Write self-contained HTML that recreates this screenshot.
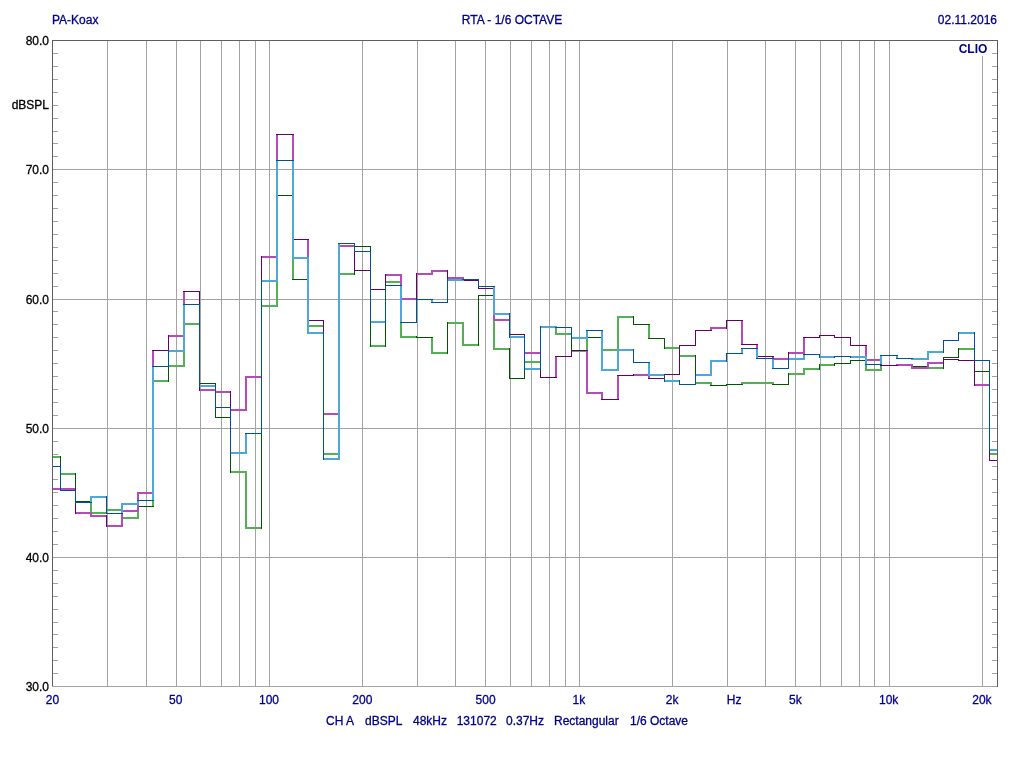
<!DOCTYPE html><html><head><meta charset="utf-8"><style>html,body{margin:0;padding:0;background:#fff;width:1024px;height:768px;overflow:hidden}svg{display:block;will-change:transform}text{font-family:"Liberation Sans",sans-serif;font-size:12px;stroke-width:0.3px}.b{fill:#00008c;stroke:#00008c}.k{fill:#000;stroke:#000}</style></head><body>
<svg width="1024" height="768" viewBox="0 0 1024 768">
<rect width="1024" height="768" fill="#fff"/>
<path d="M107.5 40 V686 M146.5 40 V686 M176.5 40 V686 M200.5 40 V686 M221.5 40 V686 M239.5 40 V686 M255.5 40 V686 M269.5 40 V686 M362.5 40 V686 M417.5 40 V686 M455.5 40 V686 M485.5 40 V686 M510.5 40 V686 M531.5 40 V686 M549.5 40 V686 M565.5 40 V686 M579.5 40 V686 M672.5 40 V686 M727.5 40 V686 M765.5 40 V686 M795.5 40 V686 M820.5 40 V686 M841.5 40 V686 M859.5 40 V686 M874.5 40 V686 M889.5 40 V686 M982.5 56 V686 M53 169.5 H997 M53 299.5 H997 M53 428.5 H997 M53 557.5 H997" stroke="#a2a3a2" stroke-width="1" fill="none" shape-rendering="crispEdges"/>
<path d="M52 686.5 H998" stroke="#a2a3a2" stroke-width="1" fill="none" shape-rendering="crispEdges"/>
<path d="M53 53.5 H58 M992 53.5 H997 M53 66.5 H58 M992 66.5 H997 M53 79.5 H58 M992 79.5 H997 M53 92.5 H58 M992 92.5 H997 M53 105.5 H58 M992 105.5 H997 M53 118.5 H58 M992 118.5 H997 M53 131.5 H58 M992 131.5 H997 M53 143.5 H58 M992 143.5 H997 M53 156.5 H58 M992 156.5 H997 M53 182.5 H58 M992 182.5 H997 M53 195.5 H58 M992 195.5 H997 M53 208.5 H58 M992 208.5 H997 M53 221.5 H58 M992 221.5 H997 M53 234.5 H58 M992 234.5 H997 M53 247.5 H58 M992 247.5 H997 M53 260.5 H58 M992 260.5 H997 M53 273.5 H58 M992 273.5 H997 M53 286.5 H58 M992 286.5 H997 M53 311.5 H58 M992 311.5 H997 M53 324.5 H58 M992 324.5 H997 M53 337.5 H58 M992 337.5 H997 M53 350.5 H58 M992 350.5 H997 M53 363.5 H58 M992 363.5 H997 M53 376.5 H58 M992 376.5 H997 M53 389.5 H58 M992 389.5 H997 M53 402.5 H58 M992 402.5 H997 M53 415.5 H58 M992 415.5 H997 M53 441.5 H58 M992 441.5 H997 M53 454.5 H58 M992 454.5 H997 M53 466.5 H58 M992 466.5 H997 M53 479.5 H58 M992 479.5 H997 M53 492.5 H58 M992 492.5 H997 M53 505.5 H58 M992 505.5 H997 M53 518.5 H58 M992 518.5 H997 M53 531.5 H58 M992 531.5 H997 M53 544.5 H58 M992 544.5 H997 M53 570.5 H58 M992 570.5 H997 M53 583.5 H58 M992 583.5 H997 M53 596.5 H58 M992 596.5 H997 M53 609.5 H58 M992 609.5 H997 M53 622.5 H58 M992 622.5 H997 M53 634.5 H58 M992 634.5 H997 M53 647.5 H58 M992 647.5 H997 M53 660.5 H58 M992 660.5 H997 M53 673.5 H58 M992 673.5 H997" stroke="#a2a3a2" stroke-width="1" fill="none" shape-rendering="crispEdges"/>
<path d="M52.5 686 V40.5 H997.5 V687" stroke="#665a62" stroke-width="1" fill="none" shape-rendering="crispEdges"/>
<g fill="none" stroke-linecap="butt" shape-rendering="crispEdges">
<path d="M53.00 457.00 H61.00 M60.00 474.00 H76.00 M91.00 501.00 V514.00 M90.00 513.00 H107.00 M106.00 510.00 H123.00 M122.00 509.00 V519.00 M121.00 518.00 H139.00 M138.00 519.00 V506.00 M153.00 507.00 V380.00 M152.00 381.00 H169.00 M168.00 366.00 H185.00 M184.00 367.00 V323.00 M183.00 324.00 H200.00 M230.00 472.00 H247.00 M246.00 471.00 V529.00 M245.00 528.00 H262.00 M261.00 306.00 H278.00 M277.00 307.00 V195.00 M293.00 195.00 V280.00 M308.00 279.00 V327.00 M307.00 326.00 H324.00 M323.00 454.00 H340.00 M339.00 455.00 V273.00 M338.00 274.00 H355.00 M370.00 346.00 H386.00 M385.00 282.00 H402.00 M401.00 281.00 V338.00 M400.00 337.00 H417.00 M432.00 337.00 V354.00 M431.00 353.00 H448.00 M447.00 323.00 H464.00 M463.00 322.00 V346.00 M462.00 345.00 H479.00 M494.00 295.00 V350.00 M493.00 349.00 H510.00 M524.00 362.00 H541.00 M540.00 327.00 H557.00 M556.00 326.00 V335.00 M555.00 334.00 H572.00 M571.00 351.00 H588.00 M587.00 352.00 V337.00 M602.00 337.00 V351.00 M601.00 350.00 H619.00 M618.00 351.00 V316.00 M617.00 317.00 H634.00 M649.00 324.00 V339.00 M664.00 348.00 H680.00 M679.00 356.00 H696.00 M695.00 383.00 H712.00 M711.00 382.00 V386.00 M742.00 385.00 V382.00 M741.00 383.00 H758.00 M757.00 384.00 V382.00 M756.00 383.00 H774.00 M773.00 382.00 V385.00 M788.00 374.00 H805.00 M804.00 375.00 V368.00 M803.00 369.00 H820.00 M819.00 365.00 H835.00 M866.00 360.00 V371.00 M865.00 370.00 H882.00 M881.00 371.00 V365.00 M897.00 366.00 V365.00 M912.00 365.00 V367.00 M928.00 366.00 V369.00 M927.00 368.00 H944.00 M958.00 349.00 H975.00 M989.00 454.00 H997.00" stroke="#55af55" stroke-width="2"/>
<path d="M60.50 456.00 V475.00 M75.50 473.00 V502.00 M75.00 501.50 H92.00 M106.50 514.00 V509.00 M137.00 506.50 H154.00 M168.50 382.00 V365.00 M199.50 323.00 V384.00 M199.00 383.50 H216.00 M215.50 383.00 V418.00 M215.00 417.50 H231.00 M230.50 417.00 V473.00 M261.50 529.00 V305.00 M276.00 195.50 H294.00 M292.00 279.50 H309.00 M323.50 325.00 V455.00 M354.50 275.00 V246.00 M354.00 246.50 H371.00 M370.50 246.00 V347.00 M385.50 347.00 V281.00 M416.50 336.00 V338.00 M416.00 337.50 H433.00 M447.50 354.00 V322.00 M478.50 346.00 V295.00 M478.00 295.50 H495.00 M509.50 348.00 V379.00 M509.00 378.50 H525.00 M524.50 379.00 V361.00 M540.50 363.00 V326.00 M571.50 333.00 V352.00 M586.00 337.50 H603.00 M633.50 316.00 V325.00 M633.00 324.50 H650.00 M648.00 338.50 H665.00 M664.50 338.00 V349.00 M679.50 347.00 V357.00 M695.50 355.00 V384.00 M710.00 385.50 H727.00 M726.50 386.00 V384.00 M726.00 384.50 H743.00 M772.00 384.50 H789.00 M788.50 385.00 V373.00 M819.50 370.00 V364.00 M834.50 366.00 V363.00 M834.00 363.50 H851.00 M850.50 364.00 V360.00 M850.00 360.50 H867.00 M880.00 365.50 H898.00 M896.00 365.50 H913.00 M911.00 366.50 H929.00 M943.50 369.00 V357.00 M943.00 357.50 H959.00 M958.50 358.00 V348.00 M974.50 348.00 V372.00 M974.00 371.50 H990.00 M989.50 371.00 V455.00" stroke="#005500" stroke-width="1"/>
<path d="M53.00 489.00 H61.00 M60.00 489.00 H76.00 M75.00 513.00 H92.00 M91.00 512.00 V517.00 M90.00 516.00 H107.00 M106.00 526.00 H123.00 M122.00 527.00 V510.00 M121.00 511.00 H139.00 M138.00 512.00 V492.00 M137.00 493.00 H154.00 M153.00 494.00 V350.00 M168.00 336.00 H185.00 M184.00 337.00 V291.00 M199.00 390.00 H216.00 M215.00 392.00 H231.00 M230.00 410.00 H247.00 M246.00 411.00 V376.00 M245.00 377.00 H262.00 M261.00 257.00 H278.00 M277.00 258.00 V134.00 M293.00 134.00 V240.00 M308.00 239.00 V321.00 M323.00 414.00 H340.00 M339.00 415.00 V245.00 M338.00 246.00 H355.00 M385.00 275.00 H402.00 M401.00 274.00 V300.00 M400.00 299.00 H417.00 M416.00 274.00 H433.00 M432.00 275.00 V270.00 M431.00 271.00 H448.00 M447.00 278.00 H464.00 M463.00 277.00 V281.00 M494.00 288.00 V321.00 M493.00 320.00 H510.00 M524.00 353.00 H541.00 M556.00 378.00 V356.00 M587.00 350.00 V394.00 M586.00 393.00 H603.00 M602.00 392.00 V400.00 M618.00 400.00 V375.00 M633.00 375.00 H650.00 M649.00 374.00 V379.00 M711.00 331.00 V327.00 M710.00 328.00 H727.00 M742.00 320.00 V345.00 M757.00 344.00 V357.00 M773.00 356.00 V360.00 M772.00 359.00 H789.00 M788.00 353.00 H805.00 M804.00 354.00 V337.00 M866.00 345.00 V361.00 M865.00 360.00 H882.00 M881.00 359.00 V366.00 M897.00 366.00 V364.00 M896.00 365.00 H913.00 M912.00 364.00 V369.00 M911.00 368.00 H929.00 M928.00 369.00 V362.00 M927.00 363.00 H944.00 M974.00 385.00 H990.00" stroke="#b44bb9" stroke-width="2"/>
<path d="M60.50 490.00 V488.00 M75.50 488.00 V514.00 M106.50 515.00 V527.00 M152.00 350.50 H169.00 M168.50 351.00 V335.00 M183.00 291.50 H200.00 M199.50 291.00 V391.00 M215.50 389.00 V393.00 M230.50 391.00 V411.00 M261.50 378.00 V256.00 M276.00 134.50 H294.00 M292.00 239.50 H309.00 M307.00 320.50 H324.00 M323.50 320.00 V415.00 M354.50 245.00 V271.00 M354.00 270.50 H371.00 M370.50 270.00 V290.00 M370.00 289.50 H386.00 M385.50 290.00 V274.00 M416.50 300.00 V273.00 M447.50 270.00 V279.00 M462.00 280.50 H479.00 M478.50 280.00 V289.00 M478.00 288.50 H495.00 M509.50 319.00 V335.00 M509.00 334.50 H525.00 M524.50 334.00 V354.00 M540.50 352.00 V378.00 M540.00 377.50 H557.00 M555.00 356.50 H572.00 M571.50 357.00 V350.00 M571.00 350.50 H588.00 M601.00 399.50 H619.00 M617.00 375.50 H634.00 M633.50 376.00 V374.00 M648.00 378.50 H665.00 M664.50 379.00 V374.00 M664.00 374.50 H680.00 M679.50 375.00 V345.00 M679.00 345.50 H696.00 M695.50 346.00 V330.00 M695.00 330.50 H712.00 M726.50 329.00 V320.00 M726.00 320.50 H743.00 M741.00 344.50 H758.00 M756.00 356.50 H774.00 M788.50 360.00 V352.00 M803.00 337.50 H820.00 M819.50 338.00 V335.00 M819.00 335.50 H835.00 M834.50 335.00 V338.00 M834.00 337.50 H851.00 M850.50 337.00 V346.00 M850.00 345.50 H867.00 M880.00 365.50 H898.00 M943.50 364.00 V359.00 M943.00 359.50 H959.00 M958.50 359.00 V361.00 M958.00 360.50 H975.00 M974.50 360.00 V386.00 M989.50 384.00 V461.00 M989.00 460.50 H997.00" stroke="#660066" stroke-width="1"/>
<path d="M91.00 503.00 V496.00 M90.00 497.00 H107.00 M122.00 514.00 V503.00 M121.00 504.00 H139.00 M138.00 505.00 V500.00 M153.00 501.00 V366.00 M168.00 351.00 H185.00 M184.00 352.00 V304.00 M199.00 386.00 H216.00 M230.00 453.00 H247.00 M246.00 454.00 V433.00 M261.00 281.00 H278.00 M277.00 282.00 V160.00 M293.00 160.00 V259.00 M292.00 258.00 H309.00 M308.00 257.00 V334.00 M307.00 333.00 H324.00 M323.00 459.00 H340.00 M339.00 460.00 V243.00 M370.00 322.00 H386.00 M401.00 285.00 V323.00 M432.00 299.00 V303.00 M447.00 280.00 H464.00 M463.00 281.00 V279.00 M494.00 286.00 V315.00 M493.00 314.00 H510.00 M509.00 337.00 H525.00 M524.00 369.00 H541.00 M540.00 327.00 H557.00 M556.00 326.00 V328.00 M571.00 338.00 H588.00 M587.00 339.00 V330.00 M602.00 330.00 V371.00 M601.00 370.00 H619.00 M618.00 371.00 V349.00 M617.00 350.00 H634.00 M649.00 362.00 V376.00 M648.00 375.00 H665.00 M664.00 381.00 H680.00 M695.00 375.00 H712.00 M711.00 376.00 V360.00 M710.00 361.00 H727.00 M742.00 354.00 V348.00 M757.00 348.00 V359.00 M773.00 358.00 V369.00 M788.00 359.00 H805.00 M804.00 360.00 V354.00 M819.00 357.00 H835.00 M850.00 357.00 H867.00 M866.00 356.00 V365.00 M881.00 365.00 V355.00 M897.00 355.00 V359.00 M912.00 358.00 V360.00 M911.00 359.00 H929.00 M928.00 360.00 V351.00 M927.00 352.00 H944.00 M958.00 333.00 H975.00 M989.00 450.00 H997.00" stroke="#4ea8d7" stroke-width="2"/>
<path d="M53.00 466.50 H61.00 M60.50 466.00 V491.00 M60.00 490.50 H76.00 M75.50 490.00 V503.00 M75.00 502.50 H92.00 M106.50 496.00 V514.00 M106.00 513.50 H123.00 M137.00 500.50 H154.00 M152.00 366.50 H169.00 M168.50 367.00 V350.00 M183.00 304.50 H200.00 M199.50 304.00 V387.00 M215.50 385.00 V408.00 M215.00 407.50 H231.00 M230.50 407.00 V454.00 M245.00 433.50 H262.00 M261.50 434.00 V280.00 M276.00 160.50 H294.00 M323.50 332.00 V460.00 M338.00 243.50 H355.00 M354.50 243.00 V252.00 M354.00 251.50 H371.00 M370.50 251.00 V323.00 M385.50 323.00 V285.00 M385.00 285.50 H402.00 M400.00 322.50 H417.00 M416.50 323.00 V299.00 M416.00 299.50 H433.00 M431.00 302.50 H448.00 M447.50 303.00 V279.00 M462.00 279.50 H479.00 M478.50 279.00 V287.00 M478.00 286.50 H495.00 M509.50 313.00 V338.00 M524.50 336.00 V370.00 M540.50 370.00 V326.00 M555.00 327.50 H572.00 M571.50 327.00 V339.00 M586.00 330.50 H603.00 M633.50 349.00 V363.00 M633.00 362.50 H650.00 M664.50 374.00 V382.00 M679.50 380.00 V385.00 M679.00 384.50 H696.00 M695.50 385.00 V374.00 M726.50 362.00 V353.00 M726.00 353.50 H743.00 M741.00 348.50 H758.00 M756.00 358.50 H774.00 M772.00 368.50 H789.00 M788.50 369.00 V358.00 M803.00 354.50 H820.00 M819.50 354.00 V358.00 M834.50 358.00 V356.00 M834.00 356.50 H851.00 M850.50 356.00 V358.00 M865.00 364.50 H882.00 M880.00 355.50 H898.00 M896.00 358.50 H913.00 M943.50 353.00 V340.00 M943.00 340.50 H959.00 M958.50 341.00 V332.00 M974.50 332.00 V361.00 M974.00 360.50 H990.00 M989.50 360.00 V451.00" stroke="#005296" stroke-width="1"/>
</g>
<rect x="956" y="42" width="34" height="13" fill="#fff"/>
<text x="958.70" y="53.00" class="b" style="font-weight:bold;stroke-width:0">CLIO</text>
<text x="52.00" y="24.00" class="b">PA-Koax</text>
<text x="512.00" y="24.00" class="b" text-anchor="middle">RTA - 1/6 OCTAVE</text>
<text x="997.00" y="24.00" class="b" text-anchor="end">02.11.2016</text>
<text x="49.00" y="45.00" class="k" text-anchor="end">80.0</text>
<text x="49.00" y="174.00" class="k" text-anchor="end">70.0</text>
<text x="49.00" y="304.00" class="k" text-anchor="end">60.0</text>
<text x="49.00" y="433.00" class="k" text-anchor="end">50.0</text>
<text x="49.00" y="562.00" class="k" text-anchor="end">40.0</text>
<text x="49.00" y="691.00" class="k" text-anchor="end">30.0</text>
<text x="49.00" y="109.00" class="k" text-anchor="end">dBSPL</text>
<text x="52.50" y="704.00" class="b" text-anchor="middle">20</text>
<text x="175.78" y="704.00" class="b" text-anchor="middle">50</text>
<text x="269.04" y="704.00" class="b" text-anchor="middle">100</text>
<text x="362.30" y="704.00" class="b" text-anchor="middle">200</text>
<text x="485.58" y="704.00" class="b" text-anchor="middle">500</text>
<text x="578.84" y="704.00" class="b" text-anchor="middle">1k</text>
<text x="672.10" y="704.00" class="b" text-anchor="middle">2k</text>
<text x="795.38" y="704.00" class="b" text-anchor="middle">5k</text>
<text x="888.64" y="704.00" class="b" text-anchor="middle">10k</text>
<text x="981.90" y="704.00" class="b" text-anchor="middle">20k</text>
<text x="734.14" y="704.00" class="b" text-anchor="middle">Hz</text>
<text x="326.00" y="725.00" class="b">CH A</text>
<text x="365.00" y="725.00" class="b">dBSPL</text>
<text x="413.00" y="725.00" class="b">48kHz</text>
<text x="456.70" y="725.00" class="b">131072</text>
<text x="506.00" y="725.00" class="b">0.37Hz</text>
<text x="554.00" y="725.00" class="b">Rectangular</text>
<text x="630.00" y="725.00" class="b">1/6 Octave</text>
</svg></body></html>
